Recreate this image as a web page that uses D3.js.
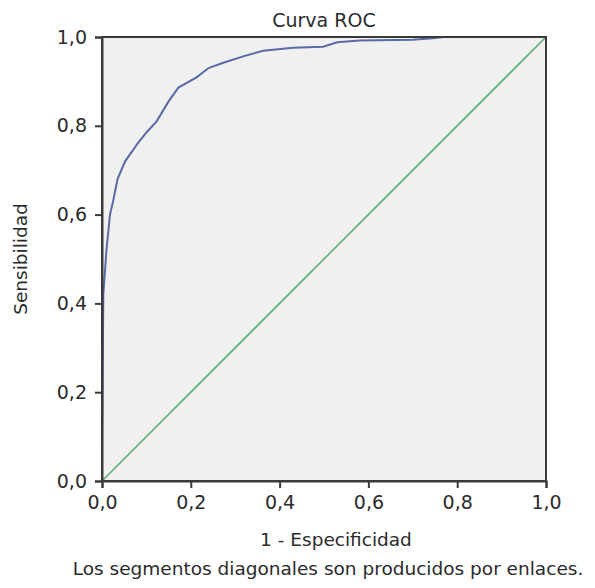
<!DOCTYPE html>
<html>
<head>
<meta charset="utf-8">
<script src="https://cdn.jsdelivr.net/npm/d3@7"></script>
<style>
  body { margin: 0; background: #fff; }
  text { font-family: "DejaVu Sans", Verdana, sans-serif; fill: #2b2b2b; }
</style>
</head>
<body>
<div id="chart-area"><svg></svg></div>
<script>
// Data
const fpr = [0, 0, 0.003, 0.01, 0.018, 0.025, 0.035, 0.052, 0.08, 0.1, 0.123, 0.15, 0.172,
  0.213, 0.24, 0.273, 0.32, 0.363, 0.43, 0.498, 0.53, 0.58, 0.7, 0.745, 0.77, 1];
const tpr = [0, 0.07, 0.42, 0.52, 0.6, 0.63, 0.68, 0.72, 0.76, 0.785, 0.81, 0.855, 0.886,
  0.909, 0.93, 0.942, 0.957, 0.969, 0.976, 0.978, 0.988, 0.992, 0.994, 0.997, 1, 1];
const refLine = [0, 1];
const ticks = [0, 0.2, 0.4, 0.6, 0.8, 1.0];
const fmt = d => d3.format(".1f")(d).replace(".", ",");

const width = 595, height = 588;
const svg = d3.select("#chart-area").select("svg")
  .attr("width", width).attr("height", height);

// plot frame
const margin = { top: 37, right: 49, bottom: 107, left: 102 };
const innerWidth = width - margin.left - margin.right;
const innerHeight = height - margin.top - margin.bottom;
const g = svg.append("g").attr("transform", `translate(${margin.left},${margin.top})`);

const x = d3.scaleLinear().domain([0, 1]).range([0, innerWidth]);
const y = d3.scaleLinear().domain([0, 1]).range([innerHeight, 0]);

// background
g.append("rect")
  .attr("width", innerWidth).attr("height", innerHeight)
  .attr("fill", "#f0f0f0");

// diagonal reference
g.append("line")
  .attr("x1", x(refLine[0])).attr("y1", y(refLine[0]))
  .attr("x2", x(refLine[1])).attr("y2", y(refLine[1]))
  .attr("stroke", "#5fae6a").attr("stroke-width", 1.6);

// ROC curve
const line = d3.line().x((d, i) => x(fpr[i])).y((d, i) => y(tpr[i]));
g.append("path")
  .datum(fpr)
  .attr("d", line)
  .attr("fill", "none")
  .attr("stroke", "#5a6aa6")
  .attr("stroke-width", 2);

// frame
g.append("rect")
  .attr("width", innerWidth).attr("height", innerHeight)
  .attr("fill", "none").attr("stroke", "#3a3a3a").attr("stroke-width", 2);

// axes
const xAxis = g.append("g").attr("transform", `translate(0,${innerHeight})`)
  .call(d3.axisBottom(x).tickValues(ticks).tickFormat(fmt).tickSize(7).tickPadding(8));
const yAxis = g.append("g")
  .call(d3.axisLeft(y).tickValues(ticks).tickFormat(fmt).tickSize(7).tickPadding(8));
[xAxis, yAxis].forEach(a => {
  a.select(".domain").attr("stroke", "#3a3a3a").attr("stroke-width", 2);
  a.selectAll(".tick line").attr("stroke", "#3a3a3a").attr("stroke-width", 2);
  a.selectAll(".tick text").attr("font-size", 19)
    .attr("font-family", "DejaVu Sans, Verdana, sans-serif").attr("fill", "#2b2b2b");
});

// title
svg.append("text")
  .attr("x", margin.left + innerWidth / 2).attr("y", 27)
  .attr("text-anchor", "middle").attr("font-size", 19)
  .text("Curva ROC");

// axis titles
svg.append("text")
  .attr("x", 336).attr("y", 546)
  .attr("text-anchor", "middle").attr("font-size", 18.5)
  .text("1 - Especificidad");

svg.append("text")
  .attr("transform", `translate(27,${margin.top + innerHeight / 2}) rotate(-90)`)
  .attr("text-anchor", "middle").attr("font-size", 18.5)
  .text("Sensibilidad");

// footnote
svg.append("text")
  .attr("x", 328).attr("y", 575)
  .attr("text-anchor", "middle").attr("font-size", 18.5)
  .text("Los segmentos diagonales son producidos por enlaces.");
</script>
</body>
</html>
